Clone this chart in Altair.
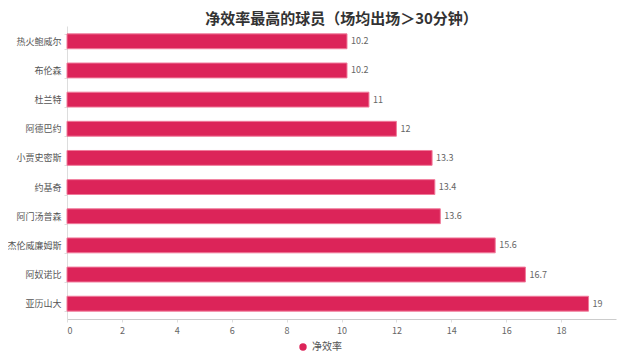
import altair as alt
import pandas as pd

players = ["热火鲍威尔", "布伦森", "杜兰特", "阿德巴约", "小贾史密斯", "约基奇", "阿门汤普森", "杰伦威廉姆斯", "阿奴诺比", "亚历山大"]
values = [10.2, 10.2, 11, 12, 13.3, 13.4, 13.6, 15.6, 16.7, 19]
series = ["净效率"] * len(players)
x_ticks = [0, 2, 4, 6, 8, 10, 12, 14, 16, 18]

df = pd.DataFrame({"player": players, "value": values, "series": series})
df["label"] = df["value"].map(lambda v: f"{v:g}")

FONT = "Noto Sans CJK SC"
RED = "#DC2459"

base = alt.Chart(df).encode(
    y=alt.Y("player:N", sort=players, title=None,
            scale=alt.Scale(paddingInner=0.49, paddingOuter=0.27),
            axis=alt.Axis(labelColor="#555555", labelFontSize=9, labelFont=FONT,
                          domainColor="#dddddd", tickColor="#dddddd", tickBand="extent",
                          tickSize=3, labelPadding=3)),
)

bars = base.mark_bar(stroke="#f07a9a", strokeWidth=1).encode(
    x=alt.X("value:Q", title=None,
            scale=alt.Scale(domain=[0, 20], nice=False),
            axis=alt.Axis(values=x_ticks, grid=False,
                          ticks=True, tickSize=3, tickColor="#dddddd",
                          labelColor="#666666", labelFontSize=9,
                          labelFont=FONT, domainColor="#cccccc", labelPadding=4)),
    color=alt.Color("series:N", scale=alt.Scale(range=[RED]),
                    legend=alt.Legend(title=None, orient="none", legendX=231, legendY=316,
                                      symbolType="circle",
                                      symbolSize=55, labelFontSize=10, labelColor="#555555",
                                      labelFont=FONT, direction="horizontal",
                                      symbolStrokeWidth=0)),
)

text = base.mark_text(align="left", dx=4, fontSize=9, color="#666666", font=FONT).encode(
    x=alt.X("value:Q"),
    text="label:N",
)

chart = (bars + text).properties(
    width=549, height=293,
    background="white",
    title=alt.TitleParams("净效率最高的球员（场均出场＞30分钟）", fontSize=15, font=FONT,
                          fontWeight="bold", color="#333333", anchor="middle", offset=0,
                          dy=5),
    autosize=alt.AutoSizeParams(type="none"),
    padding={"left": 59, "top": 18, "right": 16, "bottom": 34},
).configure_view(stroke=None)

chart.save("out.html", embed_options={"renderer": "svg", "actions": False})
